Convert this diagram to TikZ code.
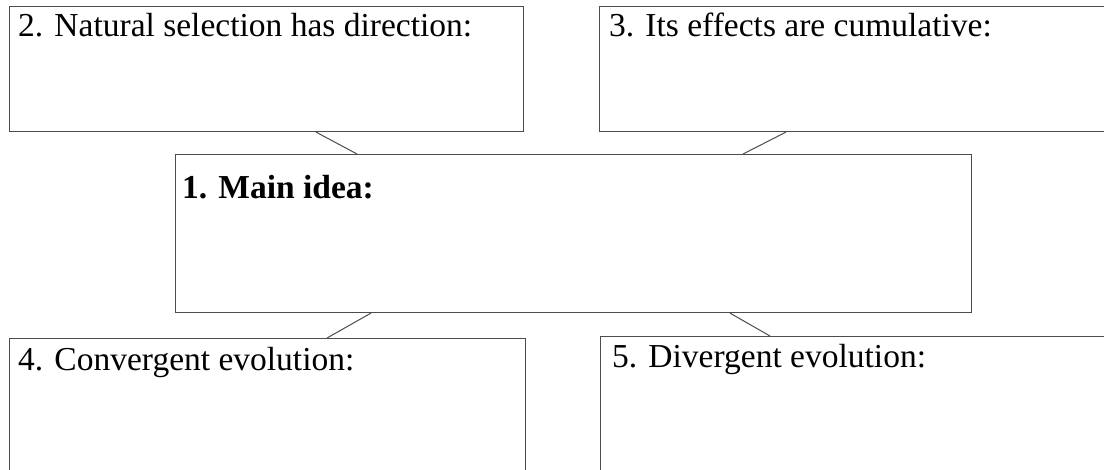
\documentclass[tikz,border=0pt]{standalone}
\usepackage{fontspec}
\setmainfont{Liberation Serif}
\begin{document}
\begin{tikzpicture}[x=1pt,y=-1pt,
  box/.style={draw=black!70, line width=1.1pt, rectangle, inner sep=0pt, anchor=north west},
  lbl/.style={inner sep=0pt, anchor=base west, font=\fontsize{33.5}{40}\selectfont},
  link/.style={draw=black!70, line width=1pt}]
\useasboundingbox (0,0) rectangle (1104,470);
\clip (0,0) rectangle (1104,470);
\node[box, minimum width=514pt, minimum height=125pt] (b2) at (9,6) {};
\node[box, minimum width=531pt, minimum height=125pt] (b3) at (599,6) {};
\node[box, minimum width=796pt, minimum height=158pt] (b1) at (175,154) {};
\node[box, minimum width=516pt, minimum height=170pt] (b4) at (9,338) {};
\node[box, minimum width=530pt, minimum height=170pt] (b5) at (600,336) {};
\node[lbl] (t2) at (18,37) {2. Natural selection has direction:};
\node[lbl] (t3) at (609,37) {3. Its effects are cumulative:};
\node[lbl] (t1) at (182,199) {\bfseries 1. Main idea:};
\node[lbl] (t4) at (18,371) {4. Convergent evolution:};
\node[lbl] (t5) at (612,368) {5. Divergent evolution:};
\draw[link] ([xshift=307pt]b2.south west) -- ([xshift=182pt]b1.north west);
\draw[link] ([xshift=187pt]b3.south west) -- ([xshift=568pt]b1.north west);
\draw[link] ([xshift=196pt]b1.south west) -- ([xshift=318pt]b4.north west);
\draw[link] ([xshift=555pt]b1.south west) -- ([xshift=170pt]b5.north west);
\end{tikzpicture}
\end{document}
